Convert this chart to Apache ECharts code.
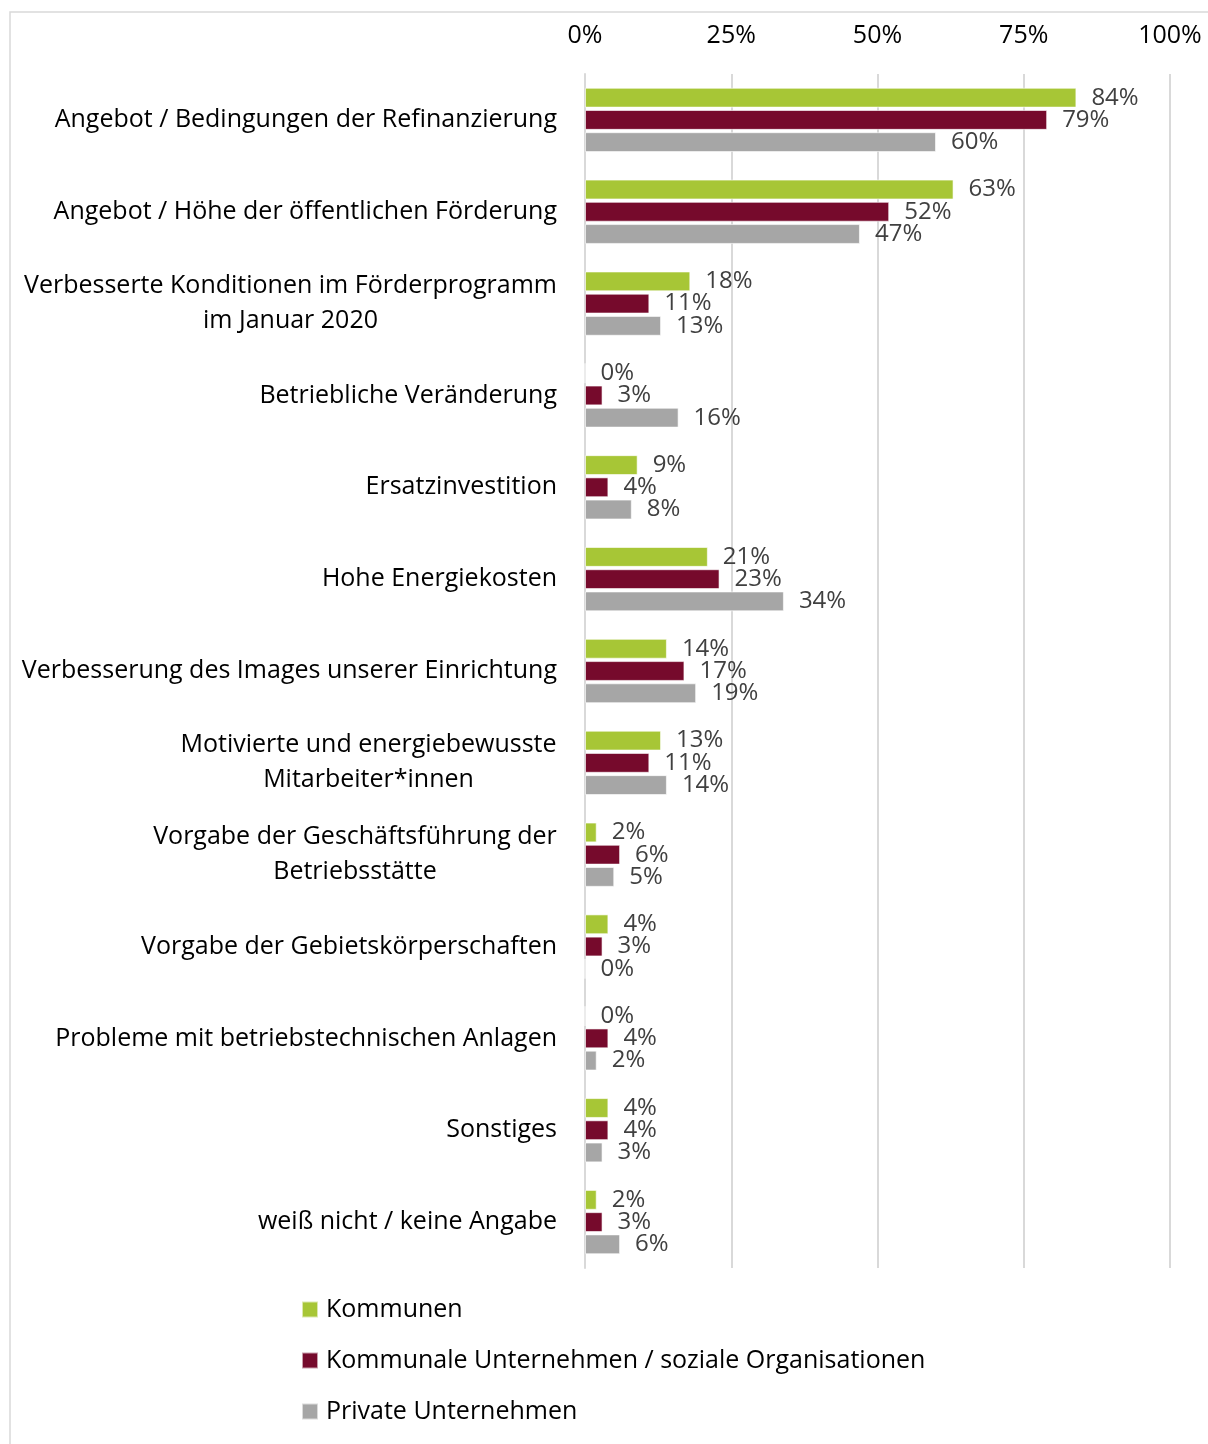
<!DOCTYPE html>
<html>
<head>
<meta charset="utf-8">
<script src="https://cdn.jsdelivr.net/npm/echarts@6/dist/echarts.min.js"></script>
<style>
  html, body { margin: 0; padding: 0; background: #fff; }
  #chart { width: 1208px; height: 1444px; }
</style>
</head>
<body>
<div id="chart"></div>
<script>
const categories = [
  "Angebot / Bedingungen der Refinanzierung",
  "Angebot / Höhe der öffentlichen Förderung",
  "Verbesserte Konditionen im Förderprogramm\nim Januar 2020",
  "Betriebliche Veränderung",
  "Ersatzinvestition",
  "Hohe Energiekosten",
  "Verbesserung des Images unserer Einrichtung",
  "Motivierte und energiebewusste\nMitarbeiter*innen",
  "Vorgabe der Geschäftsführung der\nBetriebsstätte",
  "Vorgabe der Gebietskörperschaften",
  "Probleme mit betriebstechnischen Anlagen",
  "Sonstiges",
  "weiß nicht / keine Angabe"
];
const kommunen = [84, 63, 18, 0, 9, 21, 14, 13, 2, 4, 0, 4, 2];
const kommunaleUnternehmen = [79, 52, 11, 3, 4, 23, 17, 11, 6, 3, 4, 4, 3];
const privateUnternehmen = [60, 47, 13, 16, 8, 34, 19, 14, 5, 0, 2, 3, 6];
const seriesNames = ["Kommunen", "Kommunale Unternehmen / soziale Organisationen", "Private Unternehmen"];
const colors = ["#a7c636", "#760a2c", "#a6a6a6"];

const FONT = "Open Sans";
const LABEL_SIZE = 25;

// widest line of a label, so multi-line labels get centred lines
const ctx = document.createElement("canvas").getContext("2d");
ctx.font = LABEL_SIZE + "px " + FONT;
function maxLineWidth(text) {
  return Math.ceil(Math.max.apply(null, text.split("\n").map(s => ctx.measureText(s).width)));
}

const chart = echarts.init(document.getElementById("chart"));

function barSeries(name, data, color) {
  return {
    name: name,
    type: "bar",
    data: data,
    barGap: "12%",
    barCategoryGap: "30%",
    itemStyle: { color: color, borderColor: "rgba(255,255,255,0.6)", borderWidth: 1 },
    label: {
      show: true,
      position: "right",
      distance: 15,
      formatter: "{c}%",
      color: "#404040",
      fontFamily: FONT,
      fontSize: 24
    }
  };
}

function drawChart() {
  ctx.font = LABEL_SIZE + "px " + FONT;
  const rich = {};
  categories.filter(c => c.indexOf("\n") >= 0).forEach(c => {
    const w = maxLineWidth(c);
    rich["c" + w] = { width: w, align: "center", fontSize: LABEL_SIZE, fontFamily: FONT, color: "#000", lineHeight: 35 };
  });

  chart.setOption({
    backgroundColor: "#fff",
    animation: false,
    textStyle: { fontFamily: FONT },
    graphic: [{
      type: "rect",
      shape: { x: 10, y: 12, width: 1220, height: 1450 },
      style: { fill: null, stroke: "#d9d9d9", lineWidth: 1.5 },
      silent: true
    }],
    grid: { left: 585, right: 38, top: 74, bottom: 176, containLabel: false },
    legend: {
      orient: "vertical",
      left: 301,
      top: 1297,
      padding: 0,
      itemWidth: 16,
      itemHeight: 16,
      itemGap: 26,
      icon: "rect",
      data: seriesNames,
      textStyle: { color: "#000", fontFamily: FONT, fontSize: 25, padding: [0, 0, 0, 3] }
    },
    xAxis: {
      type: "value",
      position: "top",
      min: 0,
      max: 100,
      interval: 25,
      axisLine: { show: false },
      axisTick: { show: false },
      axisLabel: { formatter: "{value}%", color: "#000", fontSize: 25, fontFamily: FONT, margin: 26 },
      splitLine: { lineStyle: { color: "#d9d9d9", width: 2 } }
    },
    yAxis: {
      type: "category",
      inverse: true,
      data: categories,
      axisLine: { show: true, lineStyle: { color: "#d9d9d9", width: 2 } },
      axisTick: { show: false },
      axisLabel: {
        margin: 28,
        color: "#000",
        fontFamily: FONT,
        fontSize: LABEL_SIZE,
        lineHeight: 35,
        formatter: function (v) {
          if (v.indexOf("\n") < 0) return v;
          const w = maxLineWidth(v);
          return v.split("\n").map(s => "{c" + w + "|" + s + "}").join("\n");
        },
        rich: rich
      }
    },
    series: [
      barSeries(seriesNames[0], kommunen, colors[0]),
      barSeries(seriesNames[1], kommunaleUnternehmen, colors[1]),
      barSeries(seriesNames[2], privateUnternehmen, colors[2])
    ]
  });
}

drawChart();
</script>
</body>
</html>
